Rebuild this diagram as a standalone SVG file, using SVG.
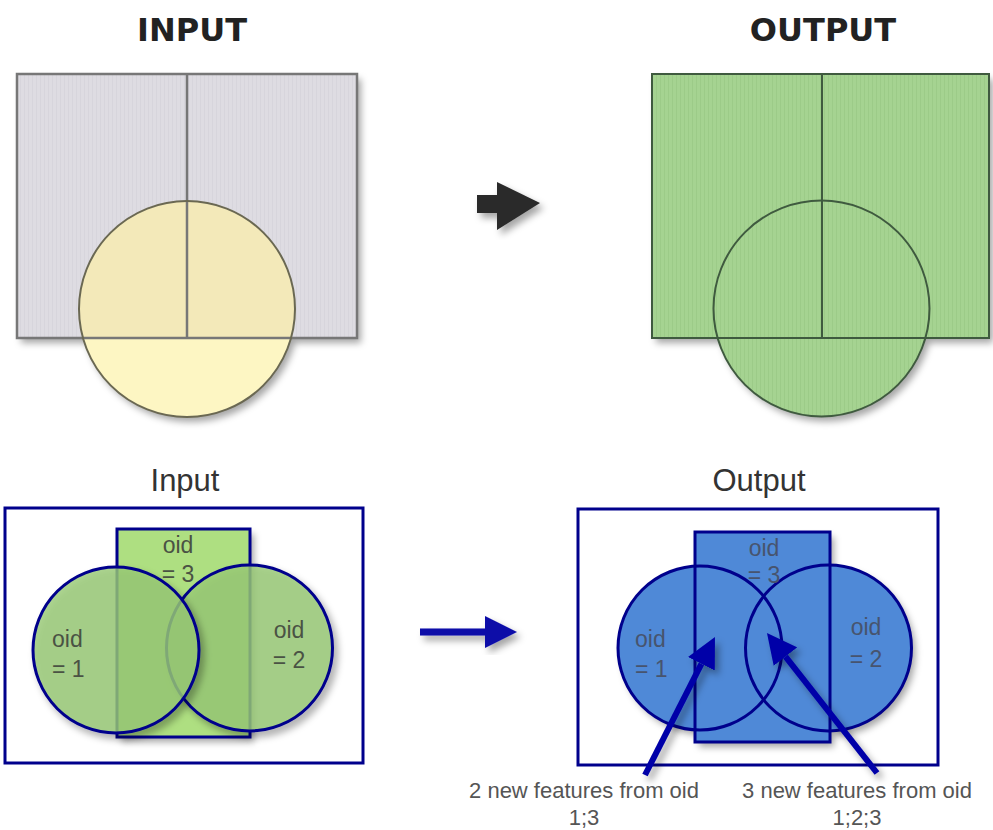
<svg xmlns="http://www.w3.org/2000/svg" width="993" height="830" viewBox="0 0 993 830">
<defs>
  <style>
    .title{font-family:"DejaVu Sans","Liberation Sans",sans-serif;font-weight:bold;font-size:32px;fill:#222;text-anchor:middle}
    .sub{font-family:"Liberation Sans",Arial,sans-serif;font-size:31px;fill:#333;text-anchor:middle}
    .oid{font-family:"Liberation Sans",Arial,sans-serif;font-size:23px;fill:#4a5244}
    .oidb{font-family:"Liberation Sans",Arial,sans-serif;font-size:23px;fill:#47546e}
    .lbl{font-family:"Liberation Sans",Arial,sans-serif;font-size:22px;fill:#555;text-anchor:middle}
    .gline{stroke:#777;stroke-width:2.5;fill:none}
    .nav{stroke:#00008c;stroke-width:3;fill:none}
  </style>
  <filter id="sh" x="-20%" y="-20%" width="140%" height="140%">
    <feDropShadow dx="4" dy="5" stdDeviation="3.5" flood-color="#000" flood-opacity="0.35"/>
  </filter>
  <pattern id="stripesG" width="4" height="10" patternUnits="userSpaceOnUse">
    <rect width="4" height="10" fill="#dedce2"/>
    <rect width="1" height="10" fill="#d7d5dc"/>
  </pattern>
  <pattern id="stripesV" width="4" height="10" patternUnits="userSpaceOnUse">
    <rect width="4" height="10" fill="#a5d391"/>
    <rect width="1" height="10" fill="#9ccb88"/>
  </pattern>
  <clipPath id="topRectClip"><rect x="17" y="74" width="340" height="264"/></clipPath>
  <marker id="ah" viewBox="0 0 10 10" refX="0" refY="5" markerWidth="30" markerHeight="30" markerUnits="userSpaceOnUse" orient="auto">
    <path d="M0,0 L10,5 L0,10 z" fill="#0000a8"/>
  </marker>
</defs>
<rect width="993" height="830" fill="#fff"/>

<!-- Titles -->
<text class="title" x="192" y="41">INPUT</text>
<text class="title" x="823" y="41">OUTPUT</text>

<!-- Top input -->
<g id="top-input">
  <g filter="url(#sh)">
    <rect x="17" y="74" width="340" height="264" fill="url(#stripesG)"/>
    <circle cx="187" cy="309" r="108" fill="#fdf6c3"/>
  </g>
  <circle cx="187" cy="309" r="108" fill="#f3e9b9" clip-path="url(#topRectClip)"/>
  <rect class="gline" x="17" y="74" width="340" height="264"/>
  <line class="gline" x1="187" y1="74" x2="187" y2="338"/>
  <circle cx="187" cy="309" r="108" fill="none" stroke="#6a6852" stroke-width="2"/>
</g>

<!-- Top output -->
<g id="top-output">
  <g filter="url(#sh)">
    <rect x="652" y="74" width="337" height="264" fill="url(#stripesV)"/>
    <circle cx="821.5" cy="308.5" r="108" fill="url(#stripesV)"/>
  </g>
  <g stroke="#3f5a3f" stroke-width="2" fill="none">
    <rect x="652" y="74" width="337" height="264"/>
    <line x1="822" y1="74" x2="822" y2="338"/>
    <circle cx="821.5" cy="308.5" r="108"/>
  </g>
</g>

<!-- Bottom labels -->
<text class="sub" x="185" y="491">Input</text>
<text class="sub" x="759" y="491">Output</text>

<!-- Bottom input -->
<g id="bottom-input">
  <rect class="nav" x="5" y="508" width="358" height="255"/>
  <g filter="url(#sh)">
    <rect x="117" y="529" width="133" height="208" fill="#aedf81"/>
  </g>
  <rect x="117" y="529" width="133" height="208" fill="none" stroke="#00008c" stroke-width="3"/>
  <g filter="url(#sh)">
    <circle cx="249.5" cy="648" r="83" fill="#98ca76" fill-opacity="0.8" stroke="#00008c" stroke-width="3"/>
  </g>
  <g filter="url(#sh)">
    <circle cx="116" cy="650" r="83" fill="#98ca76" fill-opacity="0.8" stroke="#00008c" stroke-width="3"/>
  </g>
  <text class="oid" x="52" y="647">oid</text>
  <text class="oid" x="52" y="677">= 1</text>
  <text class="oid" x="178" y="553" text-anchor="middle">oid</text>
  <text class="oid" x="178" y="582" text-anchor="middle">= 3</text>
  <text class="oid" x="289" y="638" text-anchor="middle">oid</text>
  <text class="oid" x="289" y="668" text-anchor="middle">= 2</text>
</g>

<!-- Bottom output -->
<g id="bottom-output">
  <rect class="nav" x="578" y="509" width="360" height="256"/>
  <g filter="url(#sh)">
    <rect x="695" y="532" width="135" height="210" fill="#4f89d7"/>
    <circle cx="828.5" cy="648" r="83" fill="#4f89d7"/>
    <circle cx="700" cy="648" r="82" fill="#4f89d7"/>
  </g>
  <g class="nav">
    <rect x="695" y="532" width="135" height="210"/>
    <circle cx="828.5" cy="648" r="83"/>
    <circle cx="700" cy="648" r="82"/>
  </g>
  <text class="oidb" x="635" y="647">oid</text>
  <text class="oidb" x="635" y="677">= 1</text>
  <text class="oidb" x="764" y="556" text-anchor="middle">oid</text>
  <text class="oidb" x="764" y="583" text-anchor="middle">= 3</text>
  <text class="oidb" x="866" y="635" text-anchor="middle">oid</text>
  <text class="oidb" x="866" y="667" text-anchor="middle">= 2</text>
</g>

<!-- Connectors -->
<g id="connectors">
  <polygon points="477,195 497,195 497,182 540,203 497,230 497,213 477,213" fill="#2b2b2b" filter="url(#sh)"/>
  <g filter="url(#sh)">
    <line x1="420" y1="632" x2="487" y2="632" stroke="#0a0aa8" stroke-width="7"/>
    <polygon points="485,616 517,632 485,648" fill="#0a0aa8"/>
  </g>
  <g filter="url(#sh)">
    <line x1="645" y1="775" x2="701.4" y2="663.8" stroke="#0000a8" stroke-width="6" marker-end="url(#ah)"/>
    <line x1="877" y1="773" x2="785.5" y2="656.6" stroke="#0000a8" stroke-width="6" marker-end="url(#ah)"/>
  </g>
</g>

<g id="labels">
  <text class="lbl" x="584" y="798">2 new features from oid</text>
  <text class="lbl" x="584" y="825">1;3</text>
  <text class="lbl" x="857" y="798">3 new features from oid</text>
  <text class="lbl" x="857" y="825">1;2;3</text>
</g>
</svg>
